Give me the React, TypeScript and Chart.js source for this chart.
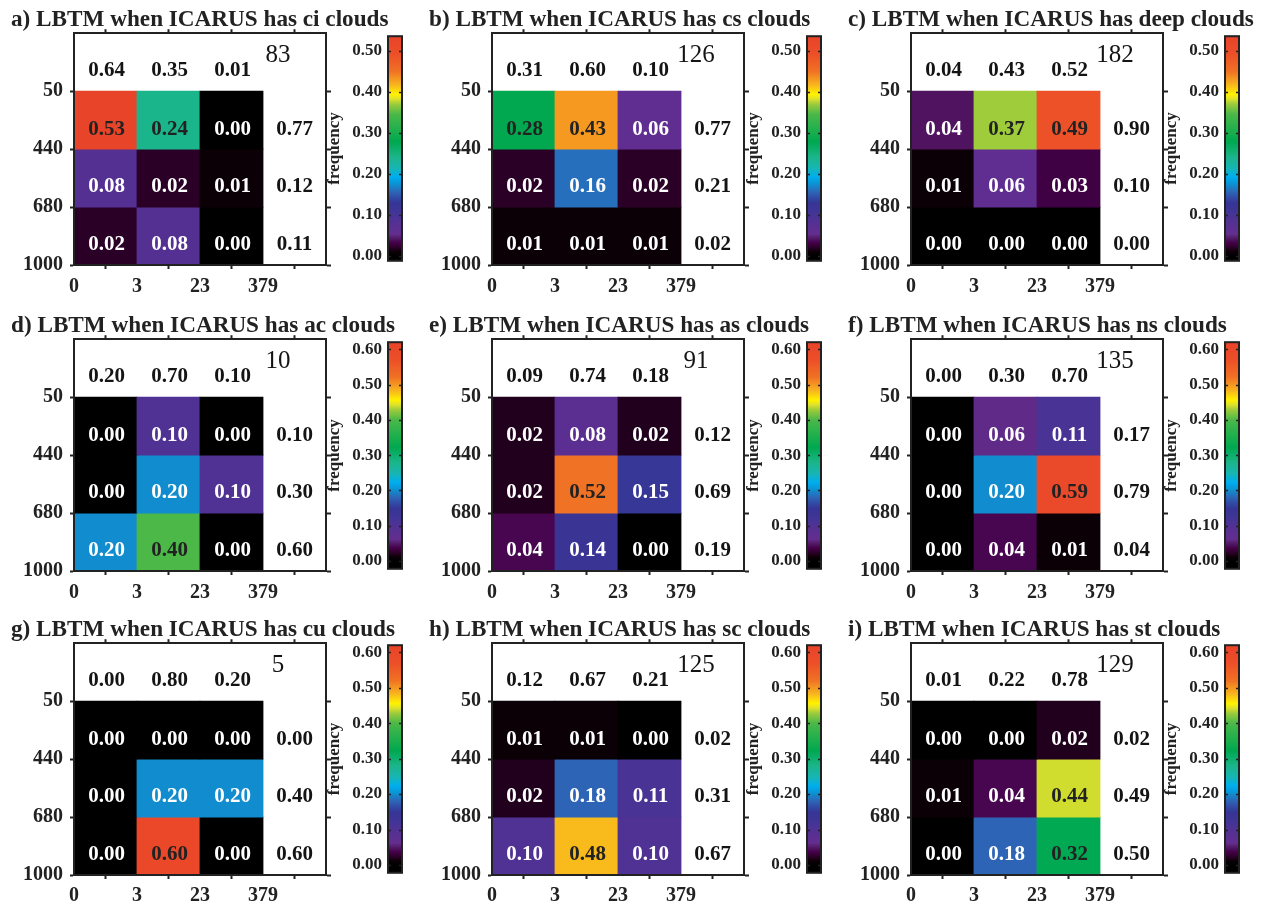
import React, { useEffect, useRef } from 'react';
import { Chart, registerables } from 'chart.js';

Chart.register(...registerables);

const SERIF = '"Liberation Serif", "Times New Roman", Times, serif';
const INK = '#222222';
Chart.defaults.font.family = SERIF;

// Axis tick labels: cloud-top pressure (hPa) and optical depth bin edges
const pressureTickLabels = ['1000', '680', '440', '50'];
const opticalDepthTickLabels = ['0', '3', '23', '379', ''];

// Joint-histogram frequencies, rows from top (50-440 hPa) to bottom (680-1000 hPa)
const ciCells = [[0.53, 0.24, 0.0], [0.08, 0.02, 0.01], [0.02, 0.08, 0.0]];
const ciColumnTotals = [0.64, 0.35, 0.01];
const ciRowTotals = [0.77, 0.12, 0.11];
const ciCount = 83;

const csCells = [[0.28, 0.43, 0.06], [0.02, 0.16, 0.02], [0.01, 0.01, 0.01]];
const csColumnTotals = [0.31, 0.6, 0.1];
const csRowTotals = [0.77, 0.21, 0.02];
const csCount = 126;

const deepCells = [[0.04, 0.37, 0.49], [0.01, 0.06, 0.03], [0.0, 0.0, 0.0]];
const deepColumnTotals = [0.04, 0.43, 0.52];
const deepRowTotals = [0.9, 0.1, 0.0];
const deepCount = 182;

const acCells = [[0.0, 0.1, 0.0], [0.0, 0.2, 0.1], [0.2, 0.4, 0.0]];
const acColumnTotals = [0.2, 0.7, 0.1];
const acRowTotals = [0.1, 0.3, 0.6];
const acCount = 10;

const asCells = [[0.02, 0.08, 0.02], [0.02, 0.52, 0.15], [0.04, 0.14, 0.0]];
const asColumnTotals = [0.09, 0.74, 0.18];
const asRowTotals = [0.12, 0.69, 0.19];
const asCount = 91;

const nsCells = [[0.0, 0.06, 0.11], [0.0, 0.2, 0.59], [0.0, 0.04, 0.01]];
const nsColumnTotals = [0.0, 0.3, 0.7];
const nsRowTotals = [0.17, 0.79, 0.04];
const nsCount = 135;

const cuCells = [[0.0, 0.0, 0.0], [0.0, 0.2, 0.2], [0.0, 0.6, 0.0]];
const cuColumnTotals = [0.0, 0.8, 0.2];
const cuRowTotals = [0.0, 0.4, 0.6];
const cuCount = 5;

const scCells = [[0.01, 0.01, 0.0], [0.02, 0.18, 0.11], [0.1, 0.48, 0.1]];
const scColumnTotals = [0.12, 0.67, 0.21];
const scRowTotals = [0.02, 0.31, 0.67];
const scCount = 125;

const stCells = [[0.0, 0.0, 0.02], [0.01, 0.04, 0.44], [0.0, 0.18, 0.32]];
const stColumnTotals = [0.01, 0.22, 0.78];
const stRowTotals = [0.02, 0.49, 0.5];
const stCount = 129;

// Colour-bar ranges and tick values
const upperBarRange = [-0.012, 0.535];
const lowerBarRange = [-0.022, 0.62];
const upperBarTicks = [0, 0.1, 0.2, 0.3, 0.4, 0.5];
const lowerBarTicks = [0, 0.1, 0.2, 0.3, 0.4, 0.5, 0.6];

// Colour map (normalised position, colour)
const colorStops: [number, string][] = [
  [0.0, '#000000'],
  [0.02, '#0d0008'],
  [0.04, '#2e002b'],
  [0.06, '#45004a'],
  [0.08, '#521a66'],
  [0.1, '#632e8f'],
  [0.15, '#553093'],
  [0.19, '#433596'],
  [0.24, '#363595'],
  [0.27, '#2f50aa'],
  [0.29, '#2e64b5'],
  [0.33, '#0a95d5'],
  [0.36, '#00aeef'],
  [0.4, '#17b5b3'],
  [0.45, '#1bb58a'],
  [0.52, '#00a84f'],
  [0.6, '#2fb34c'],
  [0.645, '#4bb848'],
  [0.69, '#9bcb3c'],
  [0.715, '#e0e22a'],
  [0.735, '#fff200'],
  [0.78, '#f8b31f'],
  [0.84, '#f07124'],
  [0.92, '#ec4f28'],
  [1.0, '#e8432a'],
];

function hexToRgb(h: string) {
  const n = parseInt(h.slice(1), 16);
  return [(n >> 16) & 255, (n >> 8) & 255, n & 255];
}

function colorFor(value: number, max: number) {
  const t = Math.max(0, Math.min(1, value / max));
  for (let i = 1; i < colorStops.length; i++) {
    const [t1, c1] = colorStops[i];
    if (t <= t1) {
      const [t0, c0] = colorStops[i - 1];
      const f = (t - t0) / (t1 - t0);
      const a = hexToRgb(c0);
      const b = hexToRgb(c1);
      const m = a.map((v, k) => Math.round(v + (b[k] - v) * f));
      return `rgb(${m[0]},${m[1]},${m[2]})`;
    }
  }
  return colorStops[colorStops.length - 1][1];
}

type Panel = {
  letter: string;
  kind: string;
  cells: number[][];
  columnTotals: number[];
  rowTotals: number[];
  count: number;
  row: number;
  col: number;
};

const panels: Panel[] = [
  { letter: 'a', kind: 'ci', cells: ciCells, columnTotals: ciColumnTotals, rowTotals: ciRowTotals, count: ciCount, row: 0, col: 0 },
  { letter: 'b', kind: 'cs', cells: csCells, columnTotals: csColumnTotals, rowTotals: csRowTotals, count: csCount, row: 0, col: 1 },
  { letter: 'c', kind: 'deep', cells: deepCells, columnTotals: deepColumnTotals, rowTotals: deepRowTotals, count: deepCount, row: 0, col: 2 },
  { letter: 'd', kind: 'ac', cells: acCells, columnTotals: acColumnTotals, rowTotals: acRowTotals, count: acCount, row: 1, col: 0 },
  { letter: 'e', kind: 'as', cells: asCells, columnTotals: asColumnTotals, rowTotals: asRowTotals, count: asCount, row: 1, col: 1 },
  { letter: 'f', kind: 'ns', cells: nsCells, columnTotals: nsColumnTotals, rowTotals: nsRowTotals, count: nsCount, row: 1, col: 2 },
  { letter: 'g', kind: 'cu', cells: cuCells, columnTotals: cuColumnTotals, rowTotals: cuRowTotals, count: cuCount, row: 2, col: 0 },
  { letter: 'h', kind: 'sc', cells: scCells, columnTotals: scColumnTotals, rowTotals: scRowTotals, count: scCount, row: 2, col: 1 },
  { letter: 'i', kind: 'st', cells: stCells, columnTotals: stColumnTotals, rowTotals: stRowTotals, count: stCount, row: 2, col: 2 },
];

// Page layout (page pixels)
const PAGE_MARGIN = 8;
const frameLefts = [74, 492, 911];
const frameTops = [33, 339, 643];
const xLabelPadding = [6, 6, 5];
const FRAME_W = 252;
const FRAME_H = 232;
const Y_AXIS_W = 63;
const TITLE_H = 23;
const TOP_AXIS_H = 2;
const BOTTOM_AXIS_H = 40;
const barLefts = [388, 807, 1225];
const barTops = [32, 338, 641];
const barHeights = [233, 235, 236];
const BAR_W = 14;
const BAR_AXIS_W = 62;
const BAR_PAD = 12;
const CONTAINER_W = 1266 - 2 * PAGE_MARGIN;
const CONTAINER_H = 907 - PAGE_MARGIN;

const gridEdges = [0, 1, 2, 3, 4];

function HeatmapPanel({ panel }: { panel: Panel }) {
  const ref = useRef<HTMLCanvasElement>(null);
  const left = frameLefts[panel.col] - Y_AXIS_W - PAGE_MARGIN;
  const top = frameTops[panel.row] - TITLE_H - TOP_AXIS_H - PAGE_MARGIN;
  const width = Math.min(420, CONTAINER_W - left);
  const height = TITLE_H + TOP_AXIS_H + FRAME_H + BOTTOM_AXIS_H;
  const rightAxisW = width - Y_AXIS_W - FRAME_W;
  const scaleMax = panel.row === 0 ? upperBarRange[1] : lowerBarRange[1];

  useEffect(() => {
    const canvas = ref.current;
    if (!canvas) return;

    const valueLabels = {
      id: 'valueLabels',
      afterDatasetsDraw(chart: any) {
        const { ctx } = chart;
        const x = chart.scales.x;
        const y = chart.scales.y;
        ctx.save();
        ctx.textAlign = 'center';
        ctx.textBaseline = 'middle';
        ctx.font = `bold 21px ${SERIF}`;
        panel.cells.forEach((rowVals, r) => {
          rowVals.forEach((v, c) => {
            ctx.fillStyle = v / scaleMax > 0.4 ? INK : '#ffffff';
            ctx.fillText(v.toFixed(2), x.getPixelForValue(c + 0.5) + 1, y.getPixelForValue(2.5 - r) + 9);
          });
        });
        ctx.fillStyle = '#141414';
        panel.columnTotals.forEach((v, c) => {
          ctx.fillText(v.toFixed(2), x.getPixelForValue(c + 0.5) + 1, y.getPixelForValue(3.5) + 8);
        });
        panel.rowTotals.forEach((v, r) => {
          ctx.fillText(v.toFixed(2), x.getPixelForValue(3.5), y.getPixelForValue(2.5 - r) + 9);
        });
        ctx.font = `25px ${SERIF}`;
        ctx.fillText(String(panel.count), x.getPixelForValue(3) + 15, y.getPixelForValue(3.5) - 7);
        ctx.restore();
      },
    };

    const edgeTicks = (values: number[]) => (s: any) => {
      s.ticks = values.map((v) => ({ value: v }));
    };
    const tickGrid = (len: number) => ({
      drawOnChartArea: false,
      drawTicks: true,
      tickLength: len,
      tickWidth: 2,
      tickColor: INK,
    });
    const frameBorder = { display: true, width: 2, color: INK, z: 1 };

    const chart = new Chart(canvas, {
      type: 'bar',
      data: {
        datasets: panel.cells.map((rowVals, r) => ({
          data: rowVals.map((_, c) => ({ x: c + 0.5, y: [2 - r, 3 - r] })),
          backgroundColor: rowVals.map((v) => colorFor(v, scaleMax)),
          borderWidth: 0,
          barPercentage: 1,
          categoryPercentage: 1,
          grouped: false,
          inflateAmount: 0.4,
        })),
      } as any,
      options: {
        animation: false,
        responsive: false,
        devicePixelRatio: 1,
        events: [],
        layout: { padding: 0 },
        plugins: {
          legend: { display: false },
          tooltip: { enabled: false },
          title: {
            display: true,
            text: `${panel.letter}) LBTM when ICARUS has ${panel.kind} clouds`,
            align: 'start',
            color: INK,
            font: { family: SERIF, size: 23.2, weight: 'bold', lineHeight: 1 },
            padding: { top: 0, bottom: 0 },
          },
        },
        scales: {
          x: {
            type: 'linear',
            position: 'bottom',
            min: 0,
            max: 4,
            offset: false,
            afterBuildTicks: edgeTicks(gridEdges),
            afterFit: (s: any) => { s.height = BOTTOM_AXIS_H; },
            grid: tickGrid(4),
            border: frameBorder,
            ticks: {
              autoSkip: false,
              maxRotation: 0,
              padding: xLabelPadding[panel.row],
              color: INK,
              font: { family: SERIF, size: 20, weight: 'bold' },
              callback: (_v: any, i: number) => opticalDepthTickLabels[i],
            },
          },
          x2: {
            type: 'linear',
            position: 'top',
            min: 0,
            max: 4,
            offset: false,
            afterBuildTicks: edgeTicks(gridEdges),
            afterFit: (s: any) => { s.height = TOP_AXIS_H; },
            grid: tickGrid(4),
            border: frameBorder,
            ticks: { display: false },
          },
          y: {
            type: 'linear',
            position: 'left',
            min: 0,
            max: 4,
            afterBuildTicks: edgeTicks([0, 1, 2, 3]),
            afterFit: (s: any) => { s.width = Y_AXIS_W; },
            grid: tickGrid(4),
            border: frameBorder,
            ticks: {
              autoSkip: false,
              padding: 7,
              color: INK,
              font: { family: SERIF, size: 20, weight: 'bold' },
              callback: (_v: any, i: number) => pressureTickLabels[i],
            },
          },
          y2: {
            type: 'linear',
            position: 'right',
            min: 0,
            max: 4,
            afterBuildTicks: edgeTicks([0, 1, 2, 3]),
            afterFit: (s: any) => { s.width = rightAxisW; },
            grid: tickGrid(5),
            border: frameBorder,
            ticks: { display: false },
          },
        },
      } as any,
      plugins: [valueLabels],
    });
    return () => chart.destroy();
  }, []);

  return (
    <canvas
      ref={ref}
      width={width}
      height={height}
      style={{ position: 'absolute', left, top, width, height }}
    />
  );
}

function Colorbar({ row, col }: { row: number; col: number }) {
  const ref = useRef<HTMLCanvasElement>(null);
  const range = row === 0 ? upperBarRange : lowerBarRange;
  const ticks = row === 0 ? upperBarTicks : lowerBarTicks;
  const left = barLefts[col] - BAR_AXIS_W - PAGE_MARGIN;
  const top = barTops[row] - BAR_PAD - PAGE_MARGIN;
  const width = BAR_AXIS_W + BAR_W + 6;
  const height = barHeights[row] + 2 * BAR_PAD;

  useEffect(() => {
    const canvas = ref.current;
    if (!canvas) return;

    const barFrame = {
      id: 'barFrame',
      afterDraw(chart: any) {
        const { ctx, chartArea: a } = chart;
        const y = chart.scales.y;
        ctx.save();
        ctx.strokeStyle = INK;
        ctx.lineWidth = 2;
        ctx.strokeRect(a.left, a.top, a.right - a.left, a.bottom - a.top);
        ctx.lineWidth = 1.5;
        ticks.forEach((v) => {
          const py = Math.round(y.getPixelForValue(v)) + 0.5;
          ctx.beginPath();
          ctx.moveTo(a.left, py);
          ctx.lineTo(a.left + 3, py);
          ctx.moveTo(a.right - 3, py);
          ctx.lineTo(a.right, py);
          ctx.stroke();
        });
        ctx.restore();
      },
    };

    const chart = new Chart(canvas, {
      type: 'bar',
      data: {
        labels: ['frequency'],
        datasets: [
          {
            data: [[range[0], range[1]]],
            backgroundColor: (c: any) => {
              const ch = c.chart;
              if (!ch.chartArea) return '#000000';
              const y = ch.scales.y;
              const g = ch.ctx.createLinearGradient(0, y.getPixelForValue(0), 0, y.getPixelForValue(range[1]));
              colorStops.forEach(([t, col]) => g.addColorStop(t, col));
              return g;
            },
            borderWidth: 0,
            barPercentage: 1,
            categoryPercentage: 1,
          },
        ],
      } as any,
      options: {
        animation: false,
        responsive: false,
        devicePixelRatio: 1,
        events: [],
        layout: { padding: { top: BAR_PAD, bottom: BAR_PAD, left: 0, right: 6 } },
        plugins: { legend: { display: false }, tooltip: { enabled: false } },
        scales: {
          x: { display: false },
          y: {
            min: range[0],
            max: range[1],
            afterBuildTicks: (s: any) => { s.ticks = ticks.map((v) => ({ value: v })); },
            afterFit: (s: any) => { s.width = BAR_AXIS_W; },
            grid: { display: false, drawTicks: false },
            border: { display: false },
            ticks: {
              autoSkip: false,
              padding: 6,
              color: INK,
              font: { family: SERIF, size: 17, weight: 'bold' },
              callback: (v: any) => Number(v).toFixed(2),
            },
            title: {
              display: true,
              text: 'frequency',
              color: INK,
              font: { family: SERIF, size: 17, weight: 'bold', lineHeight: 1 },
              padding: { top: 0, bottom: 0 },
            },
          },
        },
      } as any,
      plugins: [barFrame],
    });
    return () => chart.destroy();
  }, []);

  return (
    <canvas
      ref={ref}
      width={width}
      height={height}
      style={{ position: 'absolute', left, top, width, height }}
    />
  );
}

export default function App() {
  return (
    <div
      style={{
        position: 'relative',
        width: CONTAINER_W,
        height: CONTAINER_H,
        overflow: 'hidden',
        background: '#ffffff',
      }}
    >
      {panels.map((p) => (
        <HeatmapPanel key={`h-${p.letter}`} panel={p} />
      ))}
      {panels.map((p) => (
        <Colorbar key={`c-${p.letter}`} row={p.row} col={p.col} />
      ))}
    </div>
  );
}
